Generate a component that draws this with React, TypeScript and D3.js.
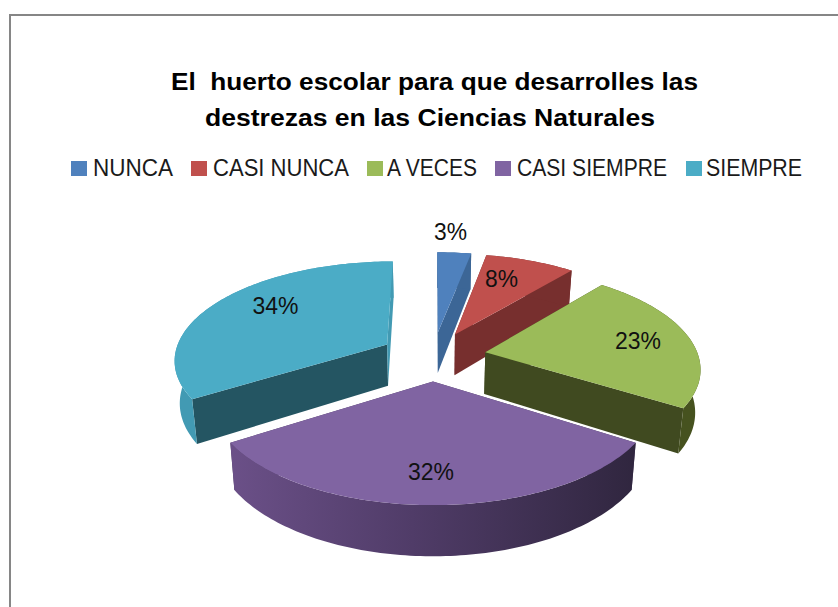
import React from "react";
import * as d3 from "d3";

const categories = ["NUNCA", "CASI NUNCA", "A VECES", "CASI SIEMPRE", "SIEMPRE"];
const values = [3, 8, 23, 32, 34];
const titleLines = ["El  huerto escolar para que desarrolles las", "destrezas en las Ciencias Naturales"];

const topColors = ["#4f81bd", "#c0504d", "#9bbb59", "#8064a2", "#4bacc6"];
const cutStartColors = ["#3c6696", "#772f2e", "#404a20", "#4a3a60", "#245562"];
const cutEndColors = ["#3c6696", "#772f2e", "#404a20", "#4a3a60", "#429ab3"];
const arcColors = ["#3c6696", "#772f2e", "#46521f", "url(#purpleWall)", "#429ab3"];

// Label placement: radial factor and angular shift (degrees) within each slice
const labelRadius = [1.3, 0.707, 0.746, 0.76, 0.723];
const labelShift = [-2, -4, 0, 0.6, 8];

// Legend layout
const legendSwatchX = [71, 191, 367, 495, 686];
const legendTextX = [93, 213, 387, 517, 706];
const legendTextW = [80, 136, 90, 150, 96];

// Perspective model of the 3D pie
const x0 = 433, y0 = 356;
const A = 97.9, B = 213, P = 0.1434;
const EXPLODE = 0.25, DEPTH = 42, BOTTOM_SHRINK = 0.98;

const project = (X: number, Y: number) => {
  const den = 1 - P * Y;
  return { x: x0 + (B * X) / den, y: y0 + (A * Y) / den, den };
};
const toBottom = (p: { x: number; y: number; den: number }) => ({
  x: x0 + (p.x - x0) * BOTTOM_SHRINK,
  y: p.y + DEPTH / p.den,
  den: p.den,
});

const pieGen = d3.pie<number>().sort(null).value((d) => d);
const lineGen = d3.line<{ x: number; y: number }>().x((d) => d.x).y((d) => d.y);

const slices = pieGen(values).map((s, i) => {
  const a0 = s.startAngle - Math.PI / 2;
  const a1 = s.endAngle - Math.PI / 2;
  const mid = (a0 + a1) / 2;
  const ex = EXPLODE * Math.cos(mid);
  const ey = EXPLODE * Math.sin(mid);
  const at = (a: number, r = 1) => project(ex + r * Math.cos(a), ey + r * Math.sin(a));
  const steps = Math.max(8, Math.ceil((a1 - a0) / 0.02));
  const arc = d3.range(steps + 1).map((k) => at(a0 + ((a1 - a0) * k) / steps));
  const apex = at(0, 0);
  const label = at(mid + (labelShift[i] * Math.PI) / 180, labelRadius[i]);
  const wall = (pts: { x: number; y: number; den: number }[]) =>
    (lineGen([...pts, ...pts.slice().reverse().map(toBottom)]) ?? "") + "Z";
  return {
    i,
    top: (lineGen([apex, ...arc]) ?? "") + "Z",
    cutA: wall([apex, arc[0]]),
    cutB: wall([apex, arc[arc.length - 1]]),
    outer: wall(arc),
    label,
  };
});

const drawOrder = [0, 1, 4, 2, 3];

export default function App() {
  return (
    <svg
      width={838}
      height={607}
      style={{ position: "absolute", left: 0, top: 0, background: "#fff" }}
      fontFamily="'Liberation Sans', Arial, sans-serif"
    >
      <defs>
        <linearGradient id="purpleWall" gradientUnits="userSpaceOnUse" x1={230} x2={635} y1={0} y2={0}>
          <stop offset="0" stopColor="#6b5088" />
          <stop offset="0.45" stopColor="#503c68" />
          <stop offset="1" stopColor="#30263f" />
        </linearGradient>
      </defs>
      <path d="M10 607V15H838" fill="none" stroke="#868686" strokeWidth={2} />
      {titleLines.map((t, i) => (
        <text
          key={t}
          x={i === 0 ? 171 : 205}
          y={i === 0 ? 90 : 126}
          fontSize={23}
          fontWeight="bold"
          fill="#000"
          textLength={i === 0 ? 527 : 450}
          lengthAdjust="spacingAndGlyphs"
          xmlSpace="preserve"
        >
          {t}
        </text>
      ))}
      {categories.map((c, i) => (
        <g key={c}>
          <rect x={legendSwatchX[i]} y={161} width={16} height={15} fill={topColors[i]} />
          <text
            x={legendTextX[i]}
            y={176}
            fontSize={23}
            fill="#1a1a1a"
            textLength={legendTextW[i]}
            lengthAdjust="spacingAndGlyphs"
          >
            {c}
          </text>
        </g>
      ))}
      {drawOrder.map((idx) => {
        const s = slices[idx];
        return (
          <g key={idx}>
            <path d={s.cutA} fill={cutStartColors[idx]} />
            <path d={s.cutB} fill={cutEndColors[idx]} />
            <path d={s.outer} fill={arcColors[idx]} />
            <path d={s.top} fill={topColors[idx]} />
          </g>
        );
      })}
      {slices.map((s) => (
        <text
          key={s.i}
          x={s.label.x}
          y={s.label.y + 8}
          textAnchor="middle"
          fontSize={23}
          fill="#111"
          textLength={s.i < 2 ? 33 : 46}
          lengthAdjust="spacingAndGlyphs"
        >
          {values[s.i]}%
        </text>
      ))}
    </svg>
  );
}
